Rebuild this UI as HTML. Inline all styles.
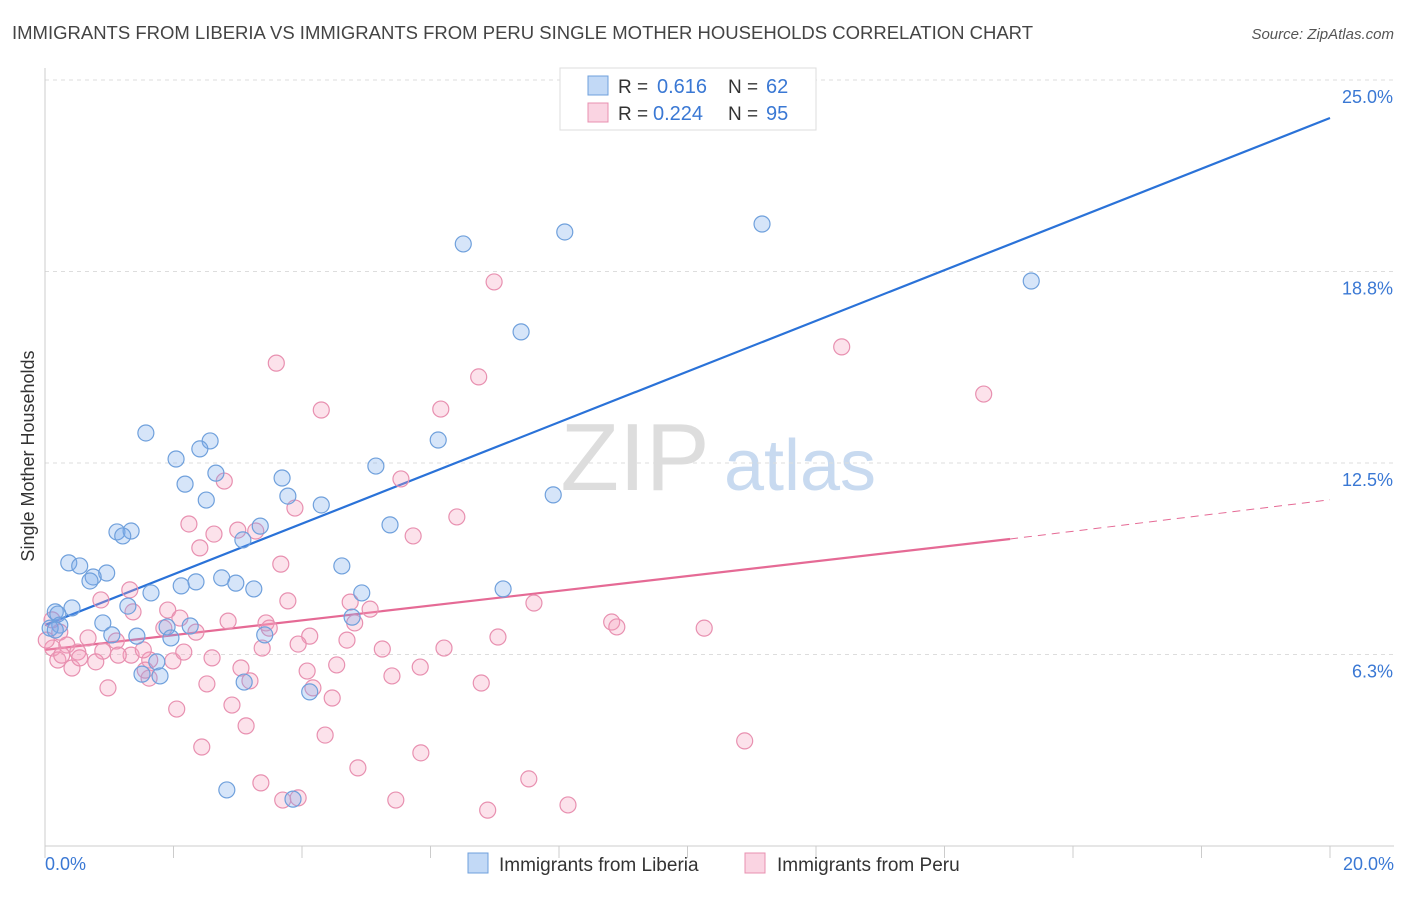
<!DOCTYPE html>
<html><head><meta charset="utf-8">
<style>
body{margin:0;background:#fff;font-family:"Liberation Sans",sans-serif;}
svg text{font-family:"Liberation Sans",sans-serif;}
</style></head>
<body>
<svg id="chart" width="1406" height="892" viewBox="0 0 1406 892" xmlns="http://www.w3.org/2000/svg">
<text x="12" y="39" font-size="18" fill="#444" textLength="1021" lengthAdjust="spacingAndGlyphs">IMMIGRANTS FROM LIBERIA VS IMMIGRANTS FROM PERU SINGLE MOTHER HOUSEHOLDS CORRELATION CHART</text>
<text x="1394" y="39" font-size="15" fill="#555" text-anchor="end" font-style="italic">Source: ZipAtlas.com</text>
<g>
<text x="635" y="490" font-size="96" fill="#ddd" text-anchor="middle" font-family="Liberation Serif">ZIP</text>
<text x="800" y="490" font-size="72" fill="#c8daf0" text-anchor="middle">atlas</text>
</g>
<g id="grid"></g>
<g id="axes"></g>
<g id="lines"></g>
<g id="points"></g>
<text transform="translate(34,456) rotate(-90)" font-size="18" fill="#333" text-anchor="middle">Single Mother Households</text>
<g>
<rect x="560" y="68" width="256" height="62" fill="#fff" stroke="#ddd"/>
<rect x="588" y="76" width="20" height="19" fill="rgba(120,170,235,0.45)" stroke="#6fa0dc"/>
<rect x="588" y="103" width="20" height="19" fill="rgba(245,160,190,0.45)" stroke="#e890b0"/>
<text x="618" y="93" font-size="19" fill="#333">R =</text>
<text x="657" y="93" font-size="20" fill="#3a78d4">0.616</text>
<text x="728" y="93" font-size="19" fill="#333">N =</text>
<text x="766" y="93" font-size="20" fill="#3a78d4">62</text>
<text x="618" y="120" font-size="19" fill="#333">R =</text>
<text x="653" y="120" font-size="20" fill="#3a78d4">0.224</text>
<text x="728" y="120" font-size="19" fill="#333">N =</text>
<text x="766" y="120" font-size="20" fill="#3a78d4">95</text>
</g>
<g>
<rect x="468" y="853" width="20" height="20" fill="rgba(120,170,235,0.45)" stroke="#6fa0dc"/>
<text x="499" y="871" font-size="19" fill="#333">Immigrants from Liberia</text>
<rect x="745" y="853" width="20" height="20" fill="rgba(245,160,190,0.45)" stroke="#e890b0"/>
<text x="777" y="871" font-size="19" fill="#333">Immigrants from Peru</text>
</g>
</svg>
<script>
const yTicks=[25,18.75,12.5,6.25];
const yTickLabels=["25.0%","18.8%","12.5%","6.3%"];
const xTicks=[0,2,4,6,8,10,12,14,16,18,20];
const xLabels=["0.0%","20.0%"];
const liberiaX=[6.51,8.09,11.16,15.35,7.41,1.57,2.57,6.12,2.04,2.41,2.66,5.15,2.18,3.69,2.51,3.78,4.30,7.91,5.37,1.12,1.34,1.21,3.35,3.08,0.37,0.54,0.96,0.75,0.70,4.62,2.75,2.35,2.12,2.97,3.25,1.65,4.93,7.13,1.29,0.42,0.16,0.20,0.23,0.90,2.26,1.90,1.04,1.43,3.42,1.96,4.78,1.74,1.51,1.79,3.10,4.12,2.83,3.86,0.08,0.16];
const liberiaY=[19.65,20.04,20.30,18.44,16.78,13.48,13.22,13.25,12.63,12.96,12.17,12.40,11.81,12.01,11.29,11.42,11.13,11.46,10.48,10.25,10.28,10.12,10.44,9.99,9.24,9.14,8.91,8.78,8.65,9.14,8.75,8.62,8.49,8.58,8.39,8.26,8.26,8.39,7.83,7.77,7.64,7.57,7.21,7.28,7.18,7.15,6.89,6.85,6.89,6.79,7.47,6.01,5.61,5.55,5.35,5.03,1.83,1.53,7.11,7.05];
const peruX=[6.99,12.40,3.60,6.75,14.61,4.30,6.16,2.79,3.89,6.41,5.54,2.24,3.00,2.63,3.28,5.73,2.41,3.67,1.32,0.87,3.78,4.75,7.61,1.91,1.37,5.06,2.85,3.44,3.49,4.82,8.82,8.90,10.26,2.10,1.85,2.35,7.05,0.23,0.67,1.11,4.12,3.94,4.70,6.21,5.25,3.38,0.12,0.34,0.51,0.90,1.34,1.63,1.99,2.60,2.16,1.14,1.53,0.20,0.42,0.79,0.54,0.26,3.05,4.08,4.54,5.84,5.40,1.62,2.52,3.19,1.56,4.17,4.47,6.79,0.98,2.05,2.91,3.13,2.44,4.36,5.85,10.89,4.87,7.53,3.36,3.70,3.94,5.46,6.89,8.14,0.02,0.11];
const peruY=[18.41,16.29,15.76,15.31,14.75,14.23,14.26,11.91,11.03,10.74,11.98,10.51,10.31,10.18,10.28,10.12,9.73,9.20,8.36,8.03,8.00,7.96,7.93,7.70,7.64,7.73,7.34,7.28,7.11,7.28,7.31,7.15,7.11,7.44,7.11,6.98,6.82,6.98,6.79,6.69,6.85,6.59,6.72,6.46,6.43,6.46,6.46,6.56,6.33,6.36,6.23,6.07,6.04,6.14,6.33,6.23,6.40,6.07,5.81,6.01,6.14,6.23,5.81,5.71,5.91,5.84,5.55,5.48,5.29,5.39,5.74,5.16,4.83,5.32,5.16,4.47,4.60,3.92,3.23,3.62,3.04,3.43,2.55,2.19,2.06,1.50,1.57,1.50,1.17,1.34,6.72,7.38];
const liberiaTrend=[7.21,23.76];
const peruTrend=[6.40,10.02,11.30];
const peruSolidEnd=15.02;

const NS="http://www.w3.org/2000/svg";
const X0=45,X1=1330,Y0=846,PXPER=30.64;
function sx(v){return X0+(X1-X0)*v/20;}
function sy(v){return Y0-v*PXPER;}
function mk(tag,attrs,parent){const e=document.createElementNS(NS,tag);for(const k in attrs)e.setAttribute(k,attrs[k]);parent.appendChild(e);return e;}
const grid=document.getElementById('grid'),axes=document.getElementById('axes'),lines=document.getElementById('lines'),pts=document.getElementById('points');
yTicks.forEach((t,i)=>{
 const l=mk('line',{x1:X0,x2:1394,y1:sy(t),y2:sy(t),stroke:'#ddd','stroke-dasharray':'4,4'},grid);
 
 
 const tx=mk('text',{x:1393,y:sy(t)+23,'font-size':18,fill:'#3a78d4','text-anchor':'end'},axes);
 tx.textContent=yTickLabels[i];
 
 
});
const ax=mk('line',{x1:X0,x2:X0,y1:68,y2:Y0,stroke:'#ccc'},axes);


const bx=mk('line',{x1:X0,x2:1394,y1:Y0,y2:Y0,stroke:'#ccc'},axes);


xTicks.forEach(t=>{
 const l=mk('line',{x1:sx(t),x2:sx(t),y1:Y0,y2:Y0+12,stroke:'#ccc'},axes);
 
 
});
const xl0=mk('text',{x:45,y:870,'font-size':18,fill:'#3a78d4'},axes);xl0.textContent=xLabels[0];


const xl1=mk('text',{x:1394,y:870,'font-size':18,fill:'#3a78d4','text-anchor':'end'},axes);xl1.textContent=xLabels[1];


function dots(xs,ys,fill,stroke,name){
 xs.forEach((x,i)=>{
  const c=mk('circle',{cx:sx(x),cy:sy(ys[i]),r:8,fill:fill,stroke:stroke,'stroke-width':1.2},pts);
  
  
 });
}
dots(peruX,peruY,'rgba(245,160,190,0.3)','#e890b0','point-peru');
dots(liberiaX,liberiaY,'rgba(120,170,235,0.3)','#6fa0dc','point-liberia');
const bl=mk('line',{x1:sx(0),y1:sy(liberiaTrend[0]),x2:sx(20),y2:sy(liberiaTrend[1]),stroke:'#2a72d8','stroke-width':2.2},lines);


const pl=mk('line',{x1:sx(0),y1:sy(peruTrend[0]),x2:sx(peruSolidEnd),y2:sy(peruTrend[1]),stroke:'#e56a95','stroke-width':2.2},lines);


const pd=mk('line',{x1:sx(peruSolidEnd),y1:sy(peruTrend[1]),x2:sx(20),y2:sy(peruTrend[2]),stroke:'#e56a95','stroke-width':1,'stroke-dasharray':'8,6'},lines);


</script>
</body></html>
